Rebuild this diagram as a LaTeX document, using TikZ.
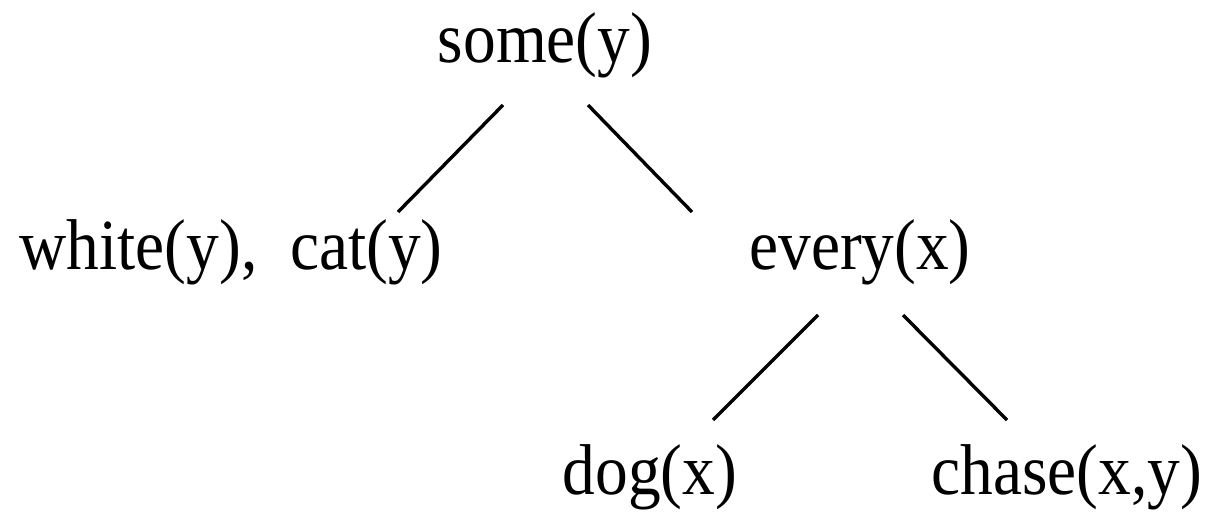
\documentclass[tikz,border=0pt]{standalone}
\usepackage{fontspec}
\setmainfont{Liberation Serif}
\usetikzlibrary{positioning}
\tikzset{
  treenode/.style={inner sep=0pt, anchor=base, font=\fontsize{46.5}{56}\selectfont, yscale=1.1, transform shape},
  branch/.style={line width=2.4pt, line cap=butt}
}
\begin{document}
\begin{tikzpicture}[x=0.025cm, y=-0.025cm]
  \useasboundingbox (0,0) rectangle (1209,512);
  \node[treenode] (some) at (545,63) {some(y)};
  \node[treenode] (wcat) at (231,269) {white(y),\ \ cat(y)};
  \node[treenode] (every) at (860,269) {every(x)};
  \node[treenode] (dog) at (650,494) {dog(x)};
  \node[treenode] (chase) at (1067,494) {chase(x,y)};
  \draw[branch] ([shift={(-42,42)}]some.base) -- ([shift={(167,-57)}]wcat.base);
  \draw[branch] ([shift={(43,42)}]some.base) -- ([shift={(-168,-57)}]every.base);
  \draw[branch] ([shift={(-42,46)}]every.base) -- ([shift={(63,-74)}]dog.base);
  \draw[branch] ([shift={(43,46)}]every.base) -- ([shift={(-60,-74)}]chase.base);
\end{tikzpicture}
\end{document}
